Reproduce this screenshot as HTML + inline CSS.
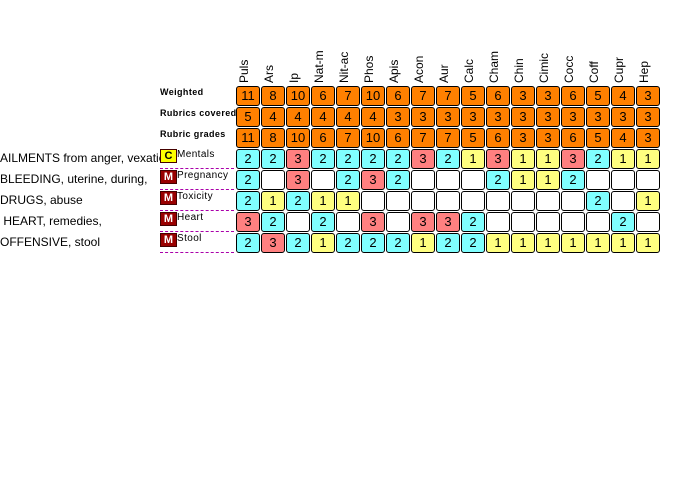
<!DOCTYPE html>
<html><head><meta charset="utf-8"><style>
body{margin:0;width:690px;height:480px;background:#fff;position:relative;overflow:hidden;font-family:"Liberation Sans",sans-serif}
.c{position:absolute;width:22px;height:18px;border:1px solid #000;border-radius:3px;font-size:13px;text-align:center;line-height:18px;color:#000}
.h{position:absolute;font-size:12px;transform-origin:0 0;transform:rotate(-90deg);white-space:nowrap}
.l{position:absolute;left:0;width:160px;overflow:hidden;white-space:nowrap;font-size:12px}
.r{position:absolute;left:160px;font-size:9px;font-weight:bold;letter-spacing:.4px}
.s{position:absolute;left:177px;font-size:10px;letter-spacing:.4px}
.ic{position:absolute;left:160px;width:15px;height:12px;font-size:11px;font-weight:bold;text-align:center;line-height:12px;color:#fff;background:#900;border:1px solid #400}
.dash{position:absolute;left:160px;width:74px;border-top:1px dashed #a0a}
</style></head><body>
<script>
var names=["Puls","Ars","Ip","Nat-m","Nit-ac","Phos","Apis","Acon","Aur","Calc","Cham","Chin","Cimic","Cocc","Coff","Cupr","Hep"];
var rows=[
[11,8,10,6,7,10,6,7,7,5,6,3,3,6,5,4,3],
[5,4,4,4,4,4,3,3,3,3,3,3,3,3,3,3,3],
[11,8,10,6,7,10,6,7,7,5,6,3,3,6,5,4,3],
[2,2,3,2,2,2,2,3,2,1,3,1,1,3,2,1,1],
[2,0,3,0,2,3,2,0,0,0,2,1,1,2,0,0,0],
[2,1,2,1,1,0,0,0,0,0,0,0,0,0,2,0,1],
[3,2,0,2,0,3,0,3,3,2,0,0,0,0,0,2,0],
[2,3,2,1,2,2,2,1,2,2,1,1,1,1,1,1,1]];
var col={0:"#fff",1:"#ffff80",2:"#80ffff",3:"#ff8080"};
var h="";
names.forEach(function(n,i){h+='<div class="h" style="left:'+(237+i*25)+'px;top:83px">'+n+'</div>';});
rows.forEach(function(r,j){r.forEach(function(v,i){
var bg=j<3?"#ff8000":col[v];
h+='<div class="c" style="left:'+(236+i*25)+'px;top:'+(86+j*21)+'px;background:'+bg+'">'+(v||"")+'</div>';});});
var rl=["Weighted","Rubrics covered","Rubric grades"];
rl.forEach(function(t,j){h+='<div class="r" style="left:160px;top:'+(87+j*21)+'px">'+t+'</div>';});
var sub=["Mentals","Pregnancy","Toxicity","Heart","Stool"];
var lab=["AILMENTS from anger, vexation","BLEEDING, uterine, during,","DRUGS, abuse","&nbsp;HEART, remedies,","OFFENSIVE, stool"];
sub.forEach(function(t,j){var y=149+j*21;
h+='<div class="l" style="top:'+(y+2)+'px">'+lab[j]+'</div>';
h+='<div class="ic" style="top:'+(y)+'px;'+(j==0?'background:#ff0;color:#000;':'')+'">'+(j==0?'C':'M')+'</div>';
h+='<div class="s" style="top:'+(y)+'px">'+t+'</div>';
h+='<div class="dash" style="top:'+(y+19)+'px"></div>';});
document.write(h);
</script>
</body></html>
